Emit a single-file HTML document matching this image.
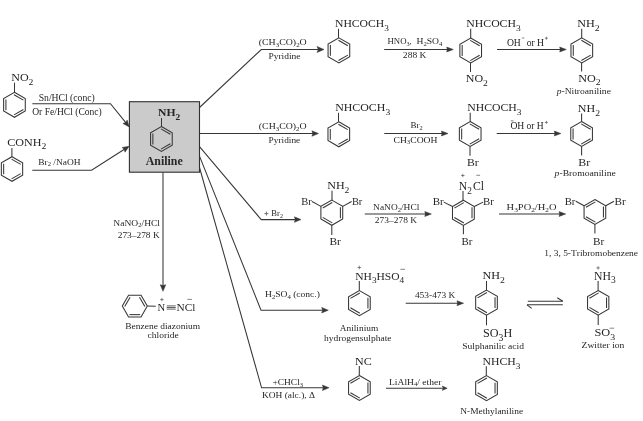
<!DOCTYPE html>
<html><head><meta charset="utf-8"><style>
html,body{margin:0;padding:0;background:#fff;}
svg{display:block;filter:grayscale(1) blur(0.25px);}
text{font-family:"Liberation Serif",serif;font-kerning:none;}
</style></head><body>
<svg width="643" height="421" viewBox="0 0 643 421">
<rect width="643" height="421" fill="#fff"/>
<text x="11.21" y="81.4" font-size="11.2" fill="#262626" textLength="22.22" lengthAdjust="spacingAndGlyphs"><tspan>NO</tspan><tspan font-size="8.96" dy="3.7">2</tspan></text>
<line x1="14.5" y1="92.3" x2="14.5" y2="82.6" stroke="#363636" stroke-width="1.05"/>
<polygon points="14.45,92.3 25.28,98.55 25.28,111.05 14.45,117.3 3.62,111.05 3.62,98.55" fill="none" stroke="#363636" stroke-width="1.05" stroke-linejoin="miter"/>
<line x1="14.02" y1="94.71" x2="23.4" y2="100.12" stroke="#363636" stroke-width="1.05"/>
<line x1="23.4" y1="109.48" x2="14.02" y2="114.89" stroke="#363636" stroke-width="1.05"/>
<line x1="5.92" y1="110.21" x2="5.92" y2="99.39" stroke="#363636" stroke-width="1.05"/>
<text x="38.68" y="100.7" font-size="9.5" fill="#262626" textLength="56.13" lengthAdjust="spacingAndGlyphs"><tspan>Sn/HCl (conc)</tspan></text>
<text x="32.18" y="115.43" font-size="9.5" fill="#262626" textLength="69.63" lengthAdjust="spacingAndGlyphs"><tspan>Or Fe/HCl (Conc)</tspan></text>
<polyline points="32.3,103.7 110.5,103.7 126,122.93" fill="none" stroke="#363636" stroke-width="1.05" stroke-linejoin="miter"/>
<polygon points="129.2,126.9 122.92,123.49 125.62,122.46 127.2,120.04" fill="#363636" stroke="#363636" stroke-width="0.5" stroke-linejoin="round"/>
<text x="7.16" y="145.55" font-size="11.2" fill="#262626" textLength="39.1" lengthAdjust="spacingAndGlyphs"><tspan>CONH</tspan><tspan font-size="8.96" dy="3.7">2</tspan></text>
<line x1="11.9" y1="156.8" x2="11.9" y2="148" stroke="#363636" stroke-width="1.05"/>
<polygon points="12,156.7 22.65,162.85 22.65,175.15 12,181.3 1.35,175.15 1.35,162.85" fill="none" stroke="#363636" stroke-width="1.05" stroke-linejoin="miter"/>
<line x1="11.58" y1="159.11" x2="20.77" y2="164.42" stroke="#363636" stroke-width="1.05"/>
<line x1="20.77" y1="173.58" x2="11.58" y2="178.89" stroke="#363636" stroke-width="1.05"/>
<line x1="3.65" y1="174.3" x2="3.65" y2="163.7" stroke="#363636" stroke-width="1.05"/>
<text x="38.23" y="164.5" font-size="8.8" fill="#262626" textLength="42.31" lengthAdjust="spacingAndGlyphs"><tspan>Br</tspan><tspan font-size="6.16" dy="1.85">2</tspan><tspan dy="-1.85"> /NaOH</tspan></text>
<polyline points="32.3,170.2 91.6,170.2 124.8,149.04" fill="none" stroke="#363636" stroke-width="1.05" stroke-linejoin="miter"/>
<polygon points="129.1,146.3 125.01,152.17 124.29,149.36 122.06,147.53" fill="#363636" stroke="#363636" stroke-width="0.5" stroke-linejoin="round"/>
<rect x="129.4" y="101.7" width="70.1" height="70.5" fill="#cbcbcb" stroke="#303030" stroke-width="1.1"/>
<text x="158.05" y="116.44" font-size="11.3" font-weight="bold" fill="#262626" textLength="22.16" lengthAdjust="spacingAndGlyphs"><tspan>NH</tspan><tspan font-size="9.04" dy="3.73">2</tspan></text>
<line x1="161.5" y1="118" x2="161.5" y2="126.5" stroke="#363636" stroke-width="1.05"/>
<polygon points="161.4,126.5 172.23,132.75 172.23,145.25 161.4,151.5 150.57,145.25 150.57,132.75" fill="none" stroke="#363636" stroke-width="1.05" stroke-linejoin="miter"/>
<line x1="160.97" y1="128.91" x2="170.35" y2="134.32" stroke="#363636" stroke-width="1.05"/>
<line x1="170.35" y1="143.68" x2="160.97" y2="149.09" stroke="#363636" stroke-width="1.05"/>
<line x1="152.87" y1="144.41" x2="152.87" y2="133.59" stroke="#363636" stroke-width="1.05"/>
<text x="145.71" y="164.62" font-size="11.7" font-weight="bold" fill="#262626" textLength="36.97" lengthAdjust="spacingAndGlyphs"><tspan>Aniline</tspan></text>
<polyline points="199.5,107.5 261.3,49.5 318.5,49.5" fill="none" stroke="#363636" stroke-width="1.05" stroke-linejoin="miter"/>
<polygon points="324,49.5 317,52.5 318.3,49.5 317,46.5" fill="#363636" stroke="#363636" stroke-width="0.5" stroke-linejoin="round"/>
<polyline points="199.5,133.5 313.4,133.5" fill="none" stroke="#363636" stroke-width="1.05" stroke-linejoin="miter"/>
<polygon points="318.5,133.5 311.9,136.25 312.8,133.5 311.9,130.75" fill="#363636" stroke="#363636" stroke-width="0.5" stroke-linejoin="round"/>
<polyline points="199.5,146.6 261.2,219.6 295.9,219.6" fill="none" stroke="#363636" stroke-width="1.05" stroke-linejoin="miter"/>
<polygon points="301,219.6 294.4,222.35 295.3,219.6 294.4,216.85" fill="#363636" stroke="#363636" stroke-width="0.5" stroke-linejoin="round"/>
<polyline points="199.5,156.1 261,310.2 323.2,310.2" fill="none" stroke="#363636" stroke-width="1.05" stroke-linejoin="miter"/>
<polygon points="328.3,310.2 321.7,312.95 322.6,310.2 321.7,307.45" fill="#363636" stroke="#363636" stroke-width="0.5" stroke-linejoin="round"/>
<polyline points="199.5,167.5 261.6,387.8 323.9,387.8" fill="none" stroke="#363636" stroke-width="1.05" stroke-linejoin="miter"/>
<polygon points="329,387.8 322.4,390.55 323.3,387.8 322.4,385.05" fill="#363636" stroke="#363636" stroke-width="0.5" stroke-linejoin="round"/>
<polyline points="163,172.5 163,286.2" fill="none" stroke="#363636" stroke-width="1.05" stroke-linejoin="miter"/>
<polygon points="163,291.3 160.25,284.7 163,285.6 165.75,284.7" fill="#363636" stroke="#363636" stroke-width="0.5" stroke-linejoin="round"/>
<text x="258.77" y="44.75" font-size="8.8" fill="#262626" textLength="47.94" lengthAdjust="spacingAndGlyphs"><tspan>(CH</tspan><tspan font-size="6.16" dy="1.85">3</tspan><tspan dy="-1.85">CO)</tspan><tspan font-size="6.16" dy="1.85">2</tspan><tspan dy="-1.85">O</tspan></text>
<text x="268.43" y="58.9" font-size="8.8" fill="#262626" textLength="32.1" lengthAdjust="spacingAndGlyphs"><tspan>Pyridine</tspan></text>
<text x="334.96" y="27.1" font-size="11.2" fill="#262626" textLength="54" lengthAdjust="spacingAndGlyphs"><tspan>NHCOCH</tspan><tspan font-size="8.96" dy="3.7">3</tspan></text>
<line x1="338.5" y1="28.8" x2="338.5" y2="37.8" stroke="#363636" stroke-width="1.05"/>
<polygon points="338.9,37.9 349.73,44.15 349.73,56.65 338.9,62.9 328.07,56.65 328.07,44.15" fill="none" stroke="#363636" stroke-width="1.05" stroke-linejoin="miter"/>
<line x1="338.47" y1="40.31" x2="347.85" y2="45.72" stroke="#363636" stroke-width="1.05"/>
<line x1="347.85" y1="55.08" x2="338.47" y2="60.49" stroke="#363636" stroke-width="1.05"/>
<line x1="330.37" y1="55.81" x2="330.37" y2="44.99" stroke="#363636" stroke-width="1.05"/>
<polyline points="384.2,49.5 448.2,49.5" fill="none" stroke="#363636" stroke-width="1.05" stroke-linejoin="miter"/>
<polygon points="453.3,49.5 446.7,51.95 447.3,49.5 446.7,47.05" fill="#363636" stroke="#363636" stroke-width="0.5" stroke-linejoin="round"/>
<text x="387.55" y="44.1" font-size="8.8" fill="#262626" textLength="24.2" lengthAdjust="spacingAndGlyphs"><tspan>HNO</tspan><tspan font-size="6.16" dy="1.85">3</tspan><tspan dy="-1.85">,</tspan></text>
<text x="416.52" y="44.1" font-size="8.8" fill="#262626" textLength="25.88" lengthAdjust="spacingAndGlyphs"><tspan>H</tspan><tspan font-size="6.16" dy="1.85">2</tspan><tspan dy="-1.85">SO</tspan><tspan font-size="6.16" dy="1.85">4</tspan></text>
<text x="402.88" y="58.1" font-size="8.8" fill="#262626" textLength="23.62" lengthAdjust="spacingAndGlyphs"><tspan>288 K</tspan></text>
<text x="466.32" y="27.06" font-size="11.2" fill="#262626" textLength="54.35" lengthAdjust="spacingAndGlyphs"><tspan>NHCOCH</tspan><tspan font-size="8.96" dy="3.7">3</tspan></text>
<line x1="470.7" y1="28.8" x2="470.7" y2="38" stroke="#363636" stroke-width="1.05"/>
<polygon points="470.7,38 481.53,44.25 481.53,56.75 470.7,63 459.87,56.75 459.87,44.25" fill="none" stroke="#363636" stroke-width="1.05" stroke-linejoin="miter"/>
<line x1="470.27" y1="40.41" x2="479.65" y2="45.82" stroke="#363636" stroke-width="1.05"/>
<line x1="479.65" y1="55.18" x2="470.27" y2="60.59" stroke="#363636" stroke-width="1.05"/>
<line x1="462.17" y1="55.91" x2="462.17" y2="45.09" stroke="#363636" stroke-width="1.05"/>
<line x1="470.5" y1="63" x2="470.5" y2="72" stroke="#363636" stroke-width="1.05"/>
<text x="465.75" y="82.4" font-size="11.2" fill="#262626" textLength="22.18" lengthAdjust="spacingAndGlyphs"><tspan>NO</tspan><tspan font-size="8.96" dy="3.7">2</tspan></text>
<polyline points="497,49.5 561.2,49.5" fill="none" stroke="#363636" stroke-width="1.05" stroke-linejoin="miter"/>
<polygon points="566.3,49.5 559.7,51.95 560.3,49.5 559.7,47.05" fill="#363636" stroke="#363636" stroke-width="0.5" stroke-linejoin="round"/>
<text x="506.89" y="45.6" font-size="9.7" fill="#1c1c1c" textLength="13.9" lengthAdjust="spacingAndGlyphs"><tspan>OH</tspan></text>
<line x1="521.9" y1="38" x2="524.4" y2="38" stroke="#555" stroke-width="0.7"/>
<text x="526.63" y="45.6" font-size="9.7" fill="#1c1c1c" textLength="17.45" lengthAdjust="spacingAndGlyphs"><tspan>or H</tspan></text>
<line x1="544.9" y1="38.2" x2="547.9" y2="38.2" stroke="#555" stroke-width="0.7"/>
<line x1="546.4" y1="36.7" x2="546.4" y2="39.7" stroke="#555" stroke-width="0.7"/>
<text x="577.35" y="27.4" font-size="11.2" fill="#262626" textLength="22.39" lengthAdjust="spacingAndGlyphs"><tspan>NH</tspan><tspan font-size="8.96" dy="3.7">2</tspan></text>
<line x1="581.7" y1="28.8" x2="581.7" y2="37.9" stroke="#363636" stroke-width="1.05"/>
<polygon points="581.8,37.9 592.63,44.15 592.63,56.65 581.8,62.9 570.97,56.65 570.97,44.15" fill="none" stroke="#363636" stroke-width="1.05" stroke-linejoin="miter"/>
<line x1="581.37" y1="40.31" x2="590.75" y2="45.72" stroke="#363636" stroke-width="1.05"/>
<line x1="590.75" y1="55.08" x2="581.37" y2="60.49" stroke="#363636" stroke-width="1.05"/>
<line x1="573.27" y1="55.81" x2="573.27" y2="44.99" stroke="#363636" stroke-width="1.05"/>
<line x1="581.6" y1="62.9" x2="581.6" y2="71.4" stroke="#363636" stroke-width="1.05"/>
<text x="578.25" y="81.7" font-size="11.2" fill="#262626" textLength="22.49" lengthAdjust="spacingAndGlyphs"><tspan>NO</tspan><tspan font-size="8.96" dy="3.7">2</tspan></text>
<text x="556.66" y="93.9" font-size="9" fill="#262626" textLength="54.27" lengthAdjust="spacingAndGlyphs"><tspan font-style="italic" dy="-0">p</tspan><tspan>-Nitroaniline</tspan></text>
<text x="258.87" y="128.95" font-size="8.8" fill="#262626" textLength="47.73" lengthAdjust="spacingAndGlyphs"><tspan>(CH</tspan><tspan font-size="6.16" dy="1.85">3</tspan><tspan dy="-1.85">CO)</tspan><tspan font-size="6.16" dy="1.85">2</tspan><tspan dy="-1.85">O</tspan></text>
<text x="268.63" y="143" font-size="8.8" fill="#262626" textLength="31.59" lengthAdjust="spacingAndGlyphs"><tspan>Pyridine</tspan></text>
<text x="335.16" y="111.06" font-size="11.2" fill="#262626" textLength="55.01" lengthAdjust="spacingAndGlyphs"><tspan>NHCOCH</tspan><tspan font-size="8.96" dy="3.7">3</tspan></text>
<line x1="338.5" y1="112.8" x2="338.5" y2="121.8" stroke="#363636" stroke-width="1.05"/>
<polygon points="338.8,121.8 349.63,128.05 349.63,140.55 338.8,146.8 327.97,140.55 327.97,128.05" fill="none" stroke="#363636" stroke-width="1.05" stroke-linejoin="miter"/>
<line x1="338.37" y1="124.21" x2="347.75" y2="129.62" stroke="#363636" stroke-width="1.05"/>
<line x1="347.75" y1="138.98" x2="338.37" y2="144.39" stroke="#363636" stroke-width="1.05"/>
<line x1="330.27" y1="139.71" x2="330.27" y2="128.89" stroke="#363636" stroke-width="1.05"/>
<polyline points="384.3,133.5 442.9,133.5" fill="none" stroke="#363636" stroke-width="1.05" stroke-linejoin="miter"/>
<polygon points="448,133.5 441.4,135.95 442,133.5 441.4,131.05" fill="#363636" stroke="#363636" stroke-width="0.5" stroke-linejoin="round"/>
<text x="410.54" y="128" font-size="8.8" fill="#262626" textLength="12.21" lengthAdjust="spacingAndGlyphs"><tspan>Br</tspan><tspan font-size="6.16" dy="1.85">2</tspan></text>
<text x="393.51" y="142.6" font-size="8.8" fill="#262626" textLength="43.98" lengthAdjust="spacingAndGlyphs"><tspan>CH</tspan><tspan font-size="6.16" dy="1.85">3</tspan><tspan dy="-1.85">COOH</tspan></text>
<text x="467.26" y="111.06" font-size="11.2" fill="#262626" textLength="54.31" lengthAdjust="spacingAndGlyphs"><tspan>NHCOCH</tspan><tspan font-size="8.96" dy="3.7">3</tspan></text>
<line x1="470.2" y1="112.8" x2="470.2" y2="121.5" stroke="#363636" stroke-width="1.05"/>
<polygon points="470.2,121.5 481.03,127.75 481.03,140.25 470.2,146.5 459.37,140.25 459.37,127.75" fill="none" stroke="#363636" stroke-width="1.05" stroke-linejoin="miter"/>
<line x1="469.77" y1="123.91" x2="479.15" y2="129.32" stroke="#363636" stroke-width="1.05"/>
<line x1="479.15" y1="138.68" x2="469.77" y2="144.09" stroke="#363636" stroke-width="1.05"/>
<line x1="461.67" y1="139.41" x2="461.67" y2="128.59" stroke="#363636" stroke-width="1.05"/>
<line x1="470" y1="146.5" x2="470" y2="155.7" stroke="#363636" stroke-width="1.05"/>
<text x="467.02" y="165.66" font-size="11.2" fill="#262626" textLength="11.68" lengthAdjust="spacingAndGlyphs"><tspan>Br</tspan></text>
<polyline points="496.7,133.5 555.8,133.5" fill="none" stroke="#363636" stroke-width="1.05" stroke-linejoin="miter"/>
<polygon points="560.9,133.5 554.3,135.95 554.9,133.5 554.3,131.05" fill="#363636" stroke="#363636" stroke-width="0.5" stroke-linejoin="round"/>
<text x="510.4" y="129.4" font-size="9.7" fill="#1c1c1c" textLength="13.93" lengthAdjust="spacingAndGlyphs"><tspan>OH</tspan></text>
<line x1="510.8" y1="120.8" x2="513.6" y2="120.8" stroke="#555" stroke-width="0.7"/>
<text x="526.54" y="129.4" font-size="9.7" fill="#1c1c1c" textLength="17.24" lengthAdjust="spacingAndGlyphs"><tspan>or H</tspan></text>
<line x1="544.9" y1="122.4" x2="547.9" y2="122.4" stroke="#555" stroke-width="0.7"/>
<line x1="546.4" y1="120.9" x2="546.4" y2="123.9" stroke="#555" stroke-width="0.7"/>
<text x="577.85" y="111.8" font-size="11.2" fill="#262626" textLength="22.18" lengthAdjust="spacingAndGlyphs"><tspan>NH</tspan><tspan font-size="8.96" dy="3.7">2</tspan></text>
<line x1="581.6" y1="113.5" x2="581.6" y2="121.5" stroke="#363636" stroke-width="1.05"/>
<polygon points="581.6,121.5 592.43,127.75 592.43,140.25 581.6,146.5 570.77,140.25 570.77,127.75" fill="none" stroke="#363636" stroke-width="1.05" stroke-linejoin="miter"/>
<line x1="581.17" y1="123.91" x2="590.55" y2="129.32" stroke="#363636" stroke-width="1.05"/>
<line x1="590.55" y1="138.68" x2="581.17" y2="144.09" stroke="#363636" stroke-width="1.05"/>
<line x1="573.07" y1="139.41" x2="573.07" y2="128.59" stroke="#363636" stroke-width="1.05"/>
<line x1="581.6" y1="146.5" x2="581.6" y2="155.5" stroke="#363636" stroke-width="1.05"/>
<text x="578.16" y="165.6" font-size="11.2" fill="#262626" textLength="11.95" lengthAdjust="spacingAndGlyphs"><tspan>Br</tspan></text>
<text x="554.57" y="175.8" font-size="9" fill="#262626" textLength="61.27" lengthAdjust="spacingAndGlyphs"><tspan font-style="italic" dy="-0">p</tspan><tspan>-Bromoaniline</tspan></text>
<line x1="264.4" y1="213.6" x2="268.4" y2="213.6" stroke="#555" stroke-width="0.8"/>
<line x1="266.4" y1="211.6" x2="266.4" y2="215.6" stroke="#555" stroke-width="0.8"/>
<text x="271.35" y="215.9" font-size="8" fill="#262626" textLength="11.58" lengthAdjust="spacingAndGlyphs"><tspan>Br</tspan><tspan font-size="5.6" dy="1.68">2</tspan></text>
<text x="327.25" y="189.4" font-size="11.2" fill="#262626" textLength="22.18" lengthAdjust="spacingAndGlyphs"><tspan>NH</tspan><tspan font-size="8.96" dy="3.7">2</tspan></text>
<line x1="332" y1="190.8" x2="332" y2="200.1" stroke="#363636" stroke-width="1.05"/>
<polygon points="331.8,200.1 342.71,206.4 342.71,219 331.8,225.3 320.89,219 320.89,206.4" fill="none" stroke="#363636" stroke-width="1.05" stroke-linejoin="miter"/>
<line x1="340.41" y1="207.23" x2="340.41" y2="218.17" stroke="#363636" stroke-width="1.05"/>
<line x1="332.23" y1="222.89" x2="322.76" y2="217.42" stroke="#363636" stroke-width="1.05"/>
<line x1="322.76" y1="207.98" x2="332.23" y2="202.51" stroke="#363636" stroke-width="1.05"/>
<line x1="320.89" y1="206.4" x2="312" y2="201.5" stroke="#363636" stroke-width="1.05"/>
<line x1="342.71" y1="206.4" x2="351.6" y2="201.5" stroke="#363636" stroke-width="1.05"/>
<line x1="331.8" y1="225.3" x2="331.8" y2="235" stroke="#363636" stroke-width="1.05"/>
<text x="301.2" y="204.7" font-size="11.2" fill="#262626" textLength="10.49" lengthAdjust="spacingAndGlyphs"><tspan>Br</tspan></text>
<text x="351.9" y="204.7" font-size="11.2" fill="#262626" textLength="10.39" lengthAdjust="spacingAndGlyphs"><tspan>Br</tspan></text>
<text x="329.42" y="244.6" font-size="11.2" fill="#262626" textLength="11.38" lengthAdjust="spacingAndGlyphs"><tspan>Br</tspan></text>
<polyline points="364.8,214 426.3,214" fill="none" stroke="#363636" stroke-width="1.05" stroke-linejoin="miter"/>
<polygon points="431.4,214 424.8,216.45 425.4,214 424.8,211.55" fill="#363636" stroke="#363636" stroke-width="0.5" stroke-linejoin="round"/>
<text x="373.13" y="209.7" font-size="8.8" fill="#262626" textLength="46.16" lengthAdjust="spacingAndGlyphs"><tspan>NaNO</tspan><tspan font-size="6.16" dy="1.85">2</tspan><tspan dy="-1.85">/HCl</tspan></text>
<text x="374.89" y="223.4" font-size="8.8" fill="#262626" textLength="42.21" lengthAdjust="spacingAndGlyphs"><tspan>273&#8211;278 K</tspan></text>
<text x="458.87" y="189.8" font-size="11.8" fill="#262626" textLength="13.05" lengthAdjust="spacingAndGlyphs"><tspan>N</tspan><tspan font-size="9.44" dy="3.89">2</tspan></text>
<text x="473.02" y="189.8" font-size="11.8" fill="#262626" textLength="11.12" lengthAdjust="spacingAndGlyphs"><tspan>Cl</tspan></text>
<line x1="461.1" y1="175.5" x2="464.5" y2="175.5" stroke="#555" stroke-width="0.7"/>
<line x1="462.8" y1="173.8" x2="462.8" y2="177.2" stroke="#555" stroke-width="0.7"/>
<line x1="476.3" y1="175.3" x2="480.1" y2="175.3" stroke="#555" stroke-width="0.7"/>
<line x1="463" y1="191" x2="463" y2="200.2" stroke="#363636" stroke-width="1.05"/>
<polygon points="463.4,200.2 474.31,206.5 474.31,219.1 463.4,225.4 452.49,219.1 452.49,206.5" fill="none" stroke="#363636" stroke-width="1.05" stroke-linejoin="miter"/>
<line x1="472.01" y1="207.33" x2="472.01" y2="218.27" stroke="#363636" stroke-width="1.05"/>
<line x1="463.83" y1="222.99" x2="454.36" y2="217.52" stroke="#363636" stroke-width="1.05"/>
<line x1="454.36" y1="208.08" x2="463.83" y2="202.61" stroke="#363636" stroke-width="1.05"/>
<line x1="452.49" y1="206.5" x2="443.8" y2="202.1" stroke="#363636" stroke-width="1.05"/>
<line x1="474.31" y1="206.5" x2="483.1" y2="202.1" stroke="#363636" stroke-width="1.05"/>
<line x1="463.4" y1="225.4" x2="463.4" y2="234.2" stroke="#363636" stroke-width="1.05"/>
<text x="432.68" y="204.6" font-size="11.2" fill="#262626" textLength="11.01" lengthAdjust="spacingAndGlyphs"><tspan>Br</tspan></text>
<text x="482.99" y="204.6" font-size="11.2" fill="#262626" textLength="10.81" lengthAdjust="spacingAndGlyphs"><tspan>Br</tspan></text>
<text x="461.39" y="244.6" font-size="11.2" fill="#262626" textLength="10.91" lengthAdjust="spacingAndGlyphs"><tspan>Br</tspan></text>
<polyline points="499,214 560.6,214" fill="none" stroke="#363636" stroke-width="1.05" stroke-linejoin="miter"/>
<polygon points="565.7,214 559.1,216.45 559.7,214 559.1,211.55" fill="#363636" stroke="#363636" stroke-width="0.5" stroke-linejoin="round"/>
<text x="506.6" y="209.7" font-size="8.8" fill="#262626" textLength="49.93" lengthAdjust="spacingAndGlyphs"><tspan>H</tspan><tspan font-size="6.16" dy="1.85">3</tspan><tspan dy="-1.85">PO</tspan><tspan font-size="6.16" dy="1.85">2</tspan><tspan dy="-1.85">/H</tspan><tspan font-size="6.16" dy="1.85">2</tspan><tspan dy="-1.85">O</tspan></text>
<polygon points="594.9,199.5 605.73,205.75 605.73,218.25 594.9,224.5 584.07,218.25 584.07,205.75" fill="none" stroke="#363636" stroke-width="1.05" stroke-linejoin="miter"/>
<line x1="603.43" y1="206.59" x2="603.43" y2="217.41" stroke="#363636" stroke-width="1.05"/>
<line x1="595.33" y1="222.09" x2="585.95" y2="216.68" stroke="#363636" stroke-width="1.05"/>
<line x1="585.95" y1="207.32" x2="595.33" y2="201.91" stroke="#363636" stroke-width="1.05"/>
<line x1="584.07" y1="205.75" x2="575.8" y2="201.3" stroke="#363636" stroke-width="1.05"/>
<line x1="605.73" y1="205.75" x2="614" y2="201.3" stroke="#363636" stroke-width="1.05"/>
<line x1="594.9" y1="224.5" x2="594.9" y2="233.5" stroke="#363636" stroke-width="1.05"/>
<text x="564.69" y="204.6" font-size="11.2" fill="#262626" textLength="10.7" lengthAdjust="spacingAndGlyphs"><tspan>Br</tspan></text>
<text x="614.58" y="204.6" font-size="11.2" fill="#262626" textLength="11.22" lengthAdjust="spacingAndGlyphs"><tspan>Br</tspan></text>
<text x="592.98" y="244.6" font-size="11.2" fill="#262626" textLength="11.22" lengthAdjust="spacingAndGlyphs"><tspan>Br</tspan></text>
<text x="544.27" y="255.8" font-size="9" fill="#262626" textLength="93.76" lengthAdjust="spacingAndGlyphs"><tspan>1, 3, 5-Tribromobenzene</tspan></text>
<text x="113.33" y="225.5" font-size="8.8" fill="#262626" textLength="46.66" lengthAdjust="spacingAndGlyphs"><tspan>NaNO</tspan><tspan font-size="6.16" dy="1.85">2</tspan><tspan dy="-1.85">/HCl</tspan></text>
<text x="117.69" y="238.4" font-size="8.8" fill="#262626" textLength="42.01" lengthAdjust="spacingAndGlyphs"><tspan>273&#8211;278 K</tspan></text>
<polygon points="141.05,295.27 147.3,306.1 141.05,316.93 128.55,316.93 122.3,306.1 128.55,295.27" fill="none" stroke="#363636" stroke-width="1.05" stroke-linejoin="miter"/>
<line x1="139.48" y1="297.15" x2="144.89" y2="306.53" stroke="#363636" stroke-width="1.05"/>
<line x1="140.21" y1="314.63" x2="129.39" y2="314.63" stroke="#363636" stroke-width="1.05"/>
<line x1="124.71" y1="306.53" x2="130.12" y2="297.15" stroke="#363636" stroke-width="1.05"/>
<line x1="147.3" y1="306.1" x2="155.8" y2="306.3" stroke="#363636" stroke-width="1.05"/>
<text x="157.49" y="310.7" font-size="11.2" fill="#262626" textLength="7.65" lengthAdjust="spacingAndGlyphs"><tspan>N</tspan></text>
<line x1="166.7" y1="305.9" x2="175.7" y2="305.9" stroke="#363636" stroke-width="0.8"/>
<line x1="166.7" y1="307.5" x2="175.7" y2="307.5" stroke="#363636" stroke-width="0.8"/>
<line x1="166.7" y1="309.1" x2="175.7" y2="309.1" stroke="#363636" stroke-width="0.8"/>
<text x="176.47" y="310.7" font-size="11.2" fill="#262626" textLength="18.85" lengthAdjust="spacingAndGlyphs"><tspan>NCl</tspan></text>
<line x1="160.2" y1="299.6" x2="163.6" y2="299.6" stroke="#555" stroke-width="0.7"/>
<line x1="161.9" y1="297.9" x2="161.9" y2="301.3" stroke="#555" stroke-width="0.7"/>
<line x1="187.3" y1="299.4" x2="192" y2="299.4" stroke="#555" stroke-width="0.7"/>
<text x="125.28" y="328.6" font-size="9" fill="#262626" textLength="74.87" lengthAdjust="spacingAndGlyphs"><tspan>Benzene diazonium</tspan></text>
<text x="147.64" y="337.8" font-size="9" fill="#262626" textLength="31.09" lengthAdjust="spacingAndGlyphs"><tspan>chloride</tspan></text>
<text x="265.03" y="297.3" font-size="8.8" fill="#262626" textLength="54.89" lengthAdjust="spacingAndGlyphs"><tspan>H</tspan><tspan font-size="6.16" dy="1.85">2</tspan><tspan dy="-1.85">SO</tspan><tspan font-size="6.16" dy="1.85">4</tspan><tspan dy="-1.85"> (conc.)</tspan></text>
<text x="355.27" y="279.5" font-size="11.2" fill="#262626" textLength="48.98" lengthAdjust="spacingAndGlyphs"><tspan>NH</tspan><tspan font-size="8.96" dy="3.7">3</tspan><tspan dy="-3.7">HSO</tspan><tspan font-size="8.96" dy="3.7">4</tspan></text>
<line x1="357.5" y1="267.5" x2="361.1" y2="267.5" stroke="#555" stroke-width="0.7"/>
<line x1="359.3" y1="265.7" x2="359.3" y2="269.3" stroke="#555" stroke-width="0.7"/>
<line x1="400.4" y1="269.3" x2="405" y2="269.3" stroke="#555" stroke-width="0.7"/>
<line x1="359.3" y1="281" x2="359.3" y2="290.6" stroke="#363636" stroke-width="1.05"/>
<polygon points="359.4,290.6 370.23,296.85 370.23,309.35 359.4,315.6 348.57,309.35 348.57,296.85" fill="none" stroke="#363636" stroke-width="1.05" stroke-linejoin="miter"/>
<line x1="367.93" y1="297.69" x2="367.93" y2="308.51" stroke="#363636" stroke-width="1.05"/>
<line x1="359.83" y1="313.19" x2="350.45" y2="307.78" stroke="#363636" stroke-width="1.05"/>
<line x1="350.45" y1="298.42" x2="359.83" y2="293.01" stroke="#363636" stroke-width="1.05"/>
<text x="339.71" y="330.8" font-size="9" fill="#262626" textLength="38.54" lengthAdjust="spacingAndGlyphs"><tspan>Anilinium</tspan></text>
<text x="324.01" y="341.4" font-size="9" fill="#262626" textLength="67.52" lengthAdjust="spacingAndGlyphs"><tspan>hydrogensulphate</tspan></text>
<polyline points="405.7,303.2 458.5,303.2" fill="none" stroke="#363636" stroke-width="1.05" stroke-linejoin="miter"/>
<polygon points="463.6,303.2 457,305.65 457.6,303.2 457,300.75" fill="#363636" stroke="#363636" stroke-width="0.5" stroke-linejoin="round"/>
<text x="414.92" y="297.5" font-size="8.8" fill="#262626" textLength="40.48" lengthAdjust="spacingAndGlyphs"><tspan>453-473 K</tspan></text>
<text x="482.55" y="279.4" font-size="11.2" fill="#262626" textLength="22.39" lengthAdjust="spacingAndGlyphs"><tspan>NH</tspan><tspan font-size="8.96" dy="3.7">2</tspan></text>
<line x1="486.5" y1="281" x2="486.5" y2="290.3" stroke="#363636" stroke-width="1.05"/>
<polygon points="486.5,290.1 497.33,296.35 497.33,308.85 486.5,315.1 475.67,308.85 475.67,296.35" fill="none" stroke="#363636" stroke-width="1.05" stroke-linejoin="miter"/>
<line x1="495.03" y1="297.19" x2="495.03" y2="308.01" stroke="#363636" stroke-width="1.05"/>
<line x1="486.93" y1="312.69" x2="477.55" y2="307.28" stroke="#363636" stroke-width="1.05"/>
<line x1="477.55" y1="297.92" x2="486.93" y2="292.51" stroke="#363636" stroke-width="1.05"/>
<line x1="486.5" y1="315" x2="486.5" y2="325.3" stroke="#363636" stroke-width="1.05"/>
<text x="483.09" y="336.7" font-size="12" fill="#262626" textLength="29.17" lengthAdjust="spacingAndGlyphs"><tspan>SO</tspan><tspan font-size="9.6" dy="3.96">3</tspan><tspan dy="-3.96">H</tspan></text>
<text x="462.26" y="348.7" font-size="9" fill="#262626" textLength="61.75" lengthAdjust="spacingAndGlyphs"><tspan>Sulphanilic acid</tspan></text>
<line x1="527.8" y1="301.3" x2="562.8" y2="301.3" stroke="#363636" stroke-width="1.05"/>
<line x1="562.8" y1="301.3" x2="557.3" y2="297.8" stroke="#363636" stroke-width="1.05"/>
<line x1="527" y1="304.8" x2="562.8" y2="304.8" stroke="#363636" stroke-width="1.05"/>
<line x1="527" y1="304.8" x2="531.7" y2="308.3" stroke="#363636" stroke-width="1.05"/>
<text x="593.96" y="279.5" font-size="11.8" fill="#262626" textLength="21.6" lengthAdjust="spacingAndGlyphs"><tspan>NH</tspan><tspan font-size="9.44" dy="3.89">3</tspan></text>
<line x1="596.4" y1="267.9" x2="599.8" y2="267.9" stroke="#555" stroke-width="0.7"/>
<line x1="598.1" y1="266.2" x2="598.1" y2="269.6" stroke="#555" stroke-width="0.7"/>
<line x1="598.1" y1="281" x2="598.1" y2="290.6" stroke="#363636" stroke-width="1.05"/>
<polygon points="598.2,290.5 608.85,296.65 608.85,308.95 598.2,315.1 587.55,308.95 587.55,296.65" fill="none" stroke="#363636" stroke-width="1.05" stroke-linejoin="miter"/>
<line x1="606.55" y1="297.5" x2="606.55" y2="308.1" stroke="#363636" stroke-width="1.05"/>
<line x1="598.62" y1="312.69" x2="589.43" y2="307.38" stroke="#363636" stroke-width="1.05"/>
<line x1="589.43" y1="298.22" x2="598.62" y2="292.91" stroke="#363636" stroke-width="1.05"/>
<line x1="598.2" y1="315" x2="598.2" y2="325.1" stroke="#363636" stroke-width="1.05"/>
<text x="594.47" y="336.3" font-size="11.2" fill="#262626" textLength="20.71" lengthAdjust="spacingAndGlyphs"><tspan>SO</tspan><tspan font-size="8.96" dy="3.7">3</tspan></text>
<line x1="609.6" y1="328.2" x2="614.2" y2="328.2" stroke="#555" stroke-width="0.7"/>
<text x="581.54" y="348.2" font-size="9" fill="#262626" textLength="42.9" lengthAdjust="spacingAndGlyphs"><tspan>Zwitter ion</tspan></text>
<text x="272.43" y="384.7" font-size="8.8" fill="#262626" textLength="30.63" lengthAdjust="spacingAndGlyphs"><tspan>+CHCl</tspan><tspan font-size="6.16" dy="1.85">3</tspan></text>
<text x="261.93" y="397.9" font-size="8.8" fill="#262626" textLength="53.13" lengthAdjust="spacingAndGlyphs"><tspan>KOH (alc.), &#916;</tspan></text>
<text x="355.05" y="364.5" font-size="11.2" fill="#262626" textLength="16.71" lengthAdjust="spacingAndGlyphs"><tspan>NC</tspan></text>
<line x1="359.3" y1="366" x2="359.3" y2="375.5" stroke="#363636" stroke-width="1.05"/>
<polygon points="359.4,375.5 370.23,381.75 370.23,394.25 359.4,400.5 348.57,394.25 348.57,381.75" fill="none" stroke="#363636" stroke-width="1.05" stroke-linejoin="miter"/>
<line x1="367.93" y1="382.59" x2="367.93" y2="393.41" stroke="#363636" stroke-width="1.05"/>
<line x1="359.83" y1="398.09" x2="350.45" y2="392.68" stroke="#363636" stroke-width="1.05"/>
<line x1="350.45" y1="383.32" x2="359.83" y2="377.91" stroke="#363636" stroke-width="1.05"/>
<polyline points="386,388.2 443.7,388.2" fill="none" stroke="#363636" stroke-width="1.05" stroke-linejoin="miter"/>
<polygon points="447.2,388.2 442.2,390.4 443.4,388.2 442.2,386" fill="#363636" stroke="#363636" stroke-width="0.5" stroke-linejoin="round"/>
<text x="389.02" y="384.5" font-size="8.8" fill="#262626" textLength="52.46" lengthAdjust="spacingAndGlyphs"><tspan>LiAlH</tspan><tspan font-size="6.16" dy="1.85">4</tspan><tspan dy="-1.85">/ ether</tspan></text>
<text x="482.56" y="364.9" font-size="11.2" fill="#262626" textLength="37.9" lengthAdjust="spacingAndGlyphs"><tspan>NHCH</tspan><tspan font-size="8.96" dy="3.7">3</tspan></text>
<line x1="486.3" y1="366.3" x2="486.3" y2="375.6" stroke="#363636" stroke-width="1.05"/>
<polygon points="486.5,375.6 497.33,381.85 497.33,394.35 486.5,400.6 475.67,394.35 475.67,381.85" fill="none" stroke="#363636" stroke-width="1.05" stroke-linejoin="miter"/>
<line x1="495.03" y1="382.69" x2="495.03" y2="393.51" stroke="#363636" stroke-width="1.05"/>
<line x1="486.93" y1="398.19" x2="477.55" y2="392.78" stroke="#363636" stroke-width="1.05"/>
<line x1="477.55" y1="383.42" x2="486.93" y2="378.01" stroke="#363636" stroke-width="1.05"/>
<text x="460.23" y="414" font-size="9" fill="#262626" textLength="62.9" lengthAdjust="spacingAndGlyphs"><tspan>N-Methylaniline</tspan></text>
</svg>
</body></html>
